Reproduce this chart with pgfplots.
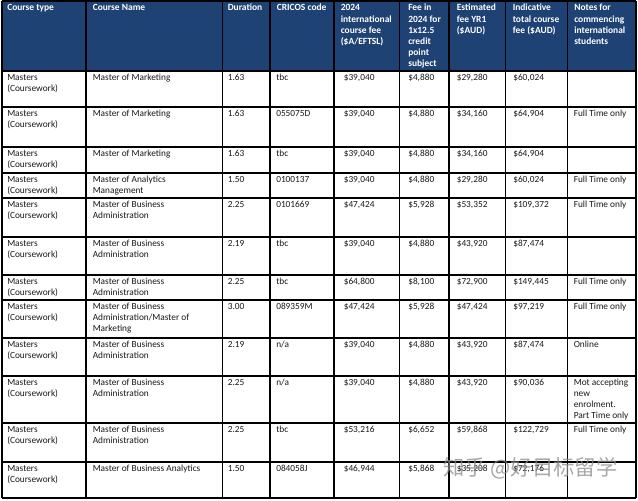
\documentclass[border=0pt]{standalone}
\usepackage{fontspec}
\setmainfont{Carlito}
\newfontfamily\cjk{Noto Sans CJK SC}
\usepackage{pgfplots}
\pgfplotsset{compat=1.18}
\definecolor{hdr}{HTML}{1F4274}
\definecolor{grid}{HTML}{262626}
\newcommand\B[3]{\node[anchor=north west,align=left,inner sep=0pt,text=white,font=\bfseries\fontsize{7.1}{8.4}\selectfont] at (axis cs:{#1},{#2}) {\rule{0pt}{6pt}#3};}
\newcommand\C[3]{\node[anchor=north west,align=left,inner sep=0pt,text=black!90,font=\fontsize{7}{8.25}\selectfont] at (axis cs:{#1},{#2}) {\rule{0pt}{6pt}#3};}
% one body row: top y, then 9 cells
\newcommand\R[9]{%
\C{7}{#1}{Masters\\(Coursework)}%
\C{92.5}{#1}{#2}\C{227.5}{#1}{#3}\C{276}{#1}{#4}\C{343.5}{#1}{#5}%
\C{408}{#1}{#6}\C{456.5}{#1}{#7}\C{513}{#1}{#8}\C{573.5}{#1}{#9}}
\begin{document}
\begin{tikzpicture}
\begin{axis}[scale only axis, width=478.5pt, height=375pt,
  xmin=0, xmax=638, ymin=0, ymax=500, y dir=reverse,
  hide axis, clip=false]
\addplot[fill=white, draw=none] coordinates {(0,0) (638,0) (638,500) (0,500) (0,0)};
\addplot[fill=hdr, draw=none] coordinates {(2,1) (636,1) (636,71) (2,71) (2,1)};
\pgfplotsinvokeforeach{1,71,107,147,173,198,237,275,300,338,376,423,462,498}{
  \addplot[grid, line width=0.9pt] coordinates {(2,#1) (636,#1)};
}
\pgfplotsinvokeforeach{2,86,222.5,270,334,399.5,449,505.5,567.5,636}{
  \addplot[grid, line width=0.9pt] coordinates {(#1,1) (#1,498)};
}
% header
\B{7}{2.7}{Course type}
\B{92.5}{2.7}{Course Name}
\B{227.5}{2.7}{Duration}
\B{276.5}{2.7}{CRICOS code}
\B{340.5}{2.7}{2024\\international\\course fee\\(\$A/EFTSL)}
\B{408}{2.7}{Fee in\\2024 for\\1x12.5\\credit\\point\\subject}
\B{456.5}{2.7}{Estimated\\fee YR1\\(\$AUD)}
\B{512.5}{2.7}{Indicative\\total course\\fee (\$AUD)}
\B{574}{2.7}{Notes for\\commencing\\international\\students}
% body
\R{72.5}{Master of Marketing}{1.63}{tbc}{\$39,040}{\$4,880}{\$29,280}{\$60,024}{}
\R{108.5}{Master of Marketing}{1.63}{055075D}{\$39,040}{\$4,880}{\$34,160}{\$64,904}{Full Time only}
\R{148.5}{Master of Marketing}{1.63}{tbc}{\$39,040}{\$4,880}{\$34,160}{\$64,904}{}
\R{174.5}{Master of Analytics\\Management}{1.50}{0100137}{\$39,040}{\$4,880}{\$29,280}{\$60,024}{Full Time only}
\R{199.5}{Master of Business\\Administration}{2.25}{0101669}{\$47,424}{\$5,928}{\$53,352}{\$109,372}{Full Time only}
\R{238.5}{Master of Business\\Administration}{2.19}{tbc}{\$39,040}{\$4,880}{\$43,920}{\$87,474}{}
\R{276.5}{Master of Business\\Administration}{2.25}{tbc}{\$64,800}{\$8,100}{\$72,900}{\$149,445}{Full Time only}
\R{301.5}{Master of Business\\Administration/Master of\\Marketing}{3.00}{089359M}{\$47,424}{\$5,928}{\$47,424}{\$97,219}{Full Time only}
\R{339.5}{Master of Business\\Administration}{2.19}{n/a}{\$39,040}{\$4,880}{\$43,920}{\$87,474}{Online}
\R{377.5}{Master of Business\\Administration}{2.25}{n/a}{\$39,040}{\$4,880}{\$43,920}{\$90,036}{Mot accepting\\new\\enrolment.\\Part Time only}
\R{424.5}{Master of Business\\Administration}{2.25}{tbc}{\$53,216}{\$6,652}{\$59,868}{\$122,729}{Full Time only}
\R{463.5}{Master of Business Analytics}{1.50}{084058J}{\$46,944}{\$5,868}{\$35,208}{\$72,176}{}
% watermark
\node[anchor=base west, inner sep=0pt, text=black!45, opacity=0.75, font=\cjk\fontsize{16}{16}\selectfont] at (axis cs:443,475) {知乎 @好目标留学};
\end{axis}
\end{tikzpicture}
\end{document}
